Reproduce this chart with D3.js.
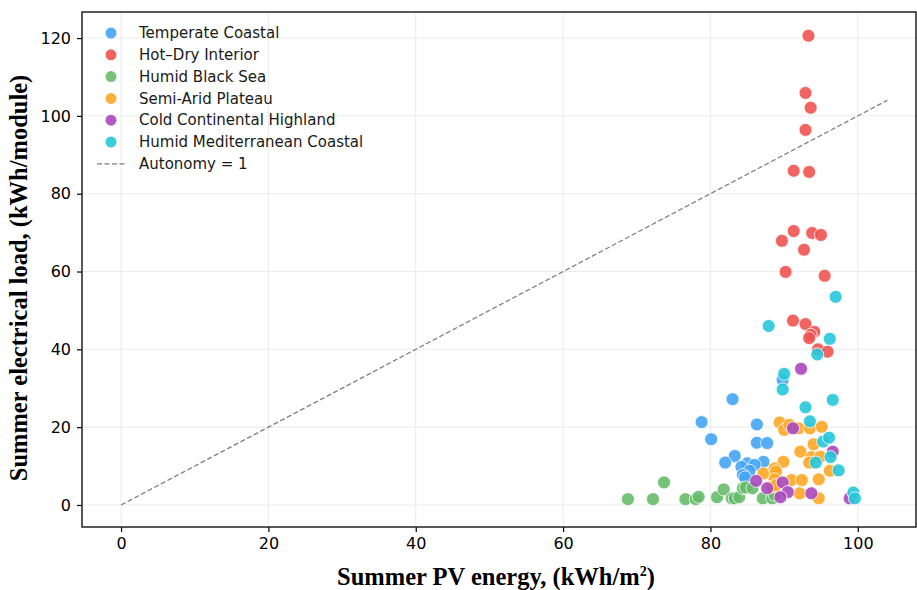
<!DOCTYPE html>
<html>
<head>
<meta charset="utf-8">
<script src="https://cdn.jsdelivr.net/npm/d3@7"></script>
<style>
    body { margin: 0; background: #fff; }
    .tick text { font-family: "DejaVu Sans", sans-serif; font-size: 16px; fill: #000; }
    .legend-label { font-family: "DejaVu Sans", sans-serif; font-size: 15px; fill: #1a1a1a; }
    .axis-title { font-family: "Liberation Serif", "Times New Roman", serif; font-size: 24.5px; font-weight: bold; fill: #000; }
</style>
</head>
<body>
<div id="chart"></div>
<script>
const WIDTH = 917, HEIGHT = 590;
const MARGIN_LEFT = 82, MARGIN_RIGHT = 1;
const MARGIN_TOP = 12, MARGIN_BOTTOM = 63;

const X_TICKS = [0, 20, 40, 60, 80, 100];
const Y_TICKS = [0, 20, 40, 60, 80, 100, 120];
const AUTONOMY_LINE = [0, 104];

const seriesNames = [
    'Temperate Coastal', 'Hot\u2013Dry Interior', 'Humid Black Sea',
    'Semi-Arid Plateau', 'Cold Continental Highland', 'Humid Mediterranean Coastal'
];
const seriesColors = ['#42a5f5', '#ef5350', '#66bb6a', '#ffa726', '#ab47bc', '#26c6da'];

// summer PV energy (kWh/m2) / summer load (kWh/module), one pair of arrays per climate zone
const temperateX = [78.8, 80.1, 83.0, 86.3, 86.3, 87.7, 83.3, 82.0, 87.2, 85.0, 84.2, 86.0, 85.3, 84.4, 84.7, 89.8];
const temperateY = [21.3, 16.9, 27.2, 20.7, 16.0, 15.9, 12.6, 10.9, 11.1, 10.7, 9.8, 10.3, 8.8, 7.7, 7.1, 32.1];

const hotDryX = [93.3, 92.9, 93.6, 92.9, 91.3, 93.4, 91.3, 93.8, 95.0, 89.7, 92.7, 90.2, 95.5, 91.2, 92.9, 94.1, 93.6, 93.4, 94.6, 95.9];
const hotDryY = [120.6, 105.9, 102.1, 96.4, 85.9, 85.6, 70.4, 69.9, 69.4, 67.9, 65.6, 59.9, 58.9, 47.4, 46.5, 44.5, 43.7, 42.9, 40.0, 39.4];

const blackSeaX = [68.8, 72.2, 73.7, 76.6, 78.0, 78.4, 80.9, 81.8, 82.9, 83.3, 83.9, 84.4, 84.8, 85.7, 87.1, 88.4, 88.7];
const blackSeaY = [1.5, 1.5, 5.8, 1.5, 1.5, 2.1, 2.0, 4.0, 1.7, 1.7, 2.0, 4.3, 4.5, 4.3, 1.7, 1.7, 2.6];

const semiAridX = [89.4, 90.0, 90.7, 92.0, 93.5, 95.1, 94.0, 92.2, 93.7, 94.9, 93.4, 89.9, 96.2, 87.2, 88.7, 88.9, 88.7, 91.0, 92.4, 94.7, 88.4, 92.1, 94.7, 88.9];
const semiAridY = [21.2, 19.3, 20.6, 19.7, 19.7, 20.1, 15.6, 13.7, 12.3, 12.4, 10.9, 11.1, 8.8, 8.1, 9.4, 8.6, 6.6, 6.4, 6.4, 6.6, 4.7, 3.0, 1.7, 5.1];

const coldX = [92.3, 91.2, 96.6, 89.8, 87.7, 90.5, 89.5, 93.7, 98.9, 86.2];
const coldY = [35.0, 19.7, 13.7, 5.8, 4.3, 3.3, 2.0, 3.0, 1.7, 6.2];

const medX = [97.0, 87.9, 96.2, 94.5, 90.0, 89.8, 96.6, 92.9, 93.5, 95.3, 96.1, 96.3, 94.3, 97.4, 99.4, 99.6];
const medY = [53.5, 46.0, 42.7, 38.7, 33.7, 29.7, 27.0, 25.1, 21.5, 16.3, 17.3, 12.3, 10.9, 8.9, 3.2, 1.7];

const seriesX = [temperateX, hotDryX, blackSeaX, semiAridX, coldX, medX];
const seriesY = [temperateY, hotDryY, blackSeaY, semiAridY, coldY, medY];

const svg = d3.select('#chart')
    .append('svg')
        .attr('width', WIDTH)
        .attr('height', HEIGHT);

const x = d3.scaleLinear()
    .domain([-5.3, 107.9])
    .range([MARGIN_LEFT, WIDTH - MARGIN_RIGHT]);

const y = d3.scaleLinear()
    .domain([-5.66, 126.7])
    .range([HEIGHT - MARGIN_BOTTOM, MARGIN_TOP]);

// grid
svg.append('g')
    .selectAll('line')
    .data(X_TICKS)
    .enter().append('line')
        .attr('x1', d => x(d)).attr('x2', d => x(d))
        .attr('y1', MARGIN_TOP).attr('y2', HEIGHT - MARGIN_BOTTOM)
        .attr('stroke', '#e6e6e6').attr('stroke-width', 0.8);

svg.append('g')
    .selectAll('line')
    .data(Y_TICKS)
    .enter().append('line')
        .attr('x1', MARGIN_LEFT).attr('x2', WIDTH - MARGIN_RIGHT)
        .attr('y1', d => y(d)).attr('y2', d => y(d))
        .attr('stroke', '#e6e6e6').attr('stroke-width', 0.8);

// points
seriesNames.forEach((name, i) => {
    const pts = seriesX[i].map((v, j) => ({x: v, y: seriesY[i][j]}));
    svg.append('g')
        .selectAll('circle')
        .data(pts)
        .enter().append('circle')
            .attr('cx', d => x(d.x))
            .attr('cy', d => y(d.y))
            .attr('r', 6.5)
            .attr('fill', seriesColors[i])
            .attr('fill-opacity', 0.9)
            .attr('stroke', '#fff')
            .attr('stroke-width', 0.8);
});

// autonomy = 1 line
svg.append('line')
    .attr('x1', x(AUTONOMY_LINE[0])).attr('y1', y(AUTONOMY_LINE[0]))
    .attr('x2', x(AUTONOMY_LINE[1])).attr('y2', y(AUTONOMY_LINE[1]))
    .attr('stroke', '#808080')
    .attr('stroke-width', 1.3)
    .attr('stroke-dasharray', '5,2.5');

// axes
const xAxis = d3.axisBottom(x).tickValues(X_TICKS).tickSize(5).tickPadding(6).tickSizeOuter(0);
const yAxis = d3.axisLeft(y).tickValues(Y_TICKS).tickSize(5).tickPadding(6).tickSizeOuter(0);

svg.append('g')
    .attr('transform', `translate(0, ${HEIGHT - MARGIN_BOTTOM})`)
    .call(xAxis)
    .call(g => g.select('.domain').remove());

svg.append('g')
    .attr('transform', `translate(${MARGIN_LEFT}, 0)`)
    .call(yAxis)
    .call(g => g.select('.domain').remove());

svg.selectAll('.tick line').attr('stroke', '#000').attr('stroke-width', 1.2);

svg.append('rect')
    .attr('x', MARGIN_LEFT).attr('y', MARGIN_TOP)
    .attr('width', WIDTH - MARGIN_RIGHT - MARGIN_LEFT)
    .attr('height', HEIGHT - MARGIN_BOTTOM - MARGIN_TOP)
    .attr('fill', 'none')
    .attr('stroke', '#222')
    .attr('stroke-width', 1.5);

// titles
const xTitle = svg.append('text')
    .attr('class', 'axis-title')
    .attr('x', 496)
    .attr('y', 585)
    .attr('text-anchor', 'middle');
xTitle.append('tspan').text('Summer PV energy, (kWh/m');
xTitle.append('tspan').attr('font-size', 14).attr('dy', -9).text('2');
xTitle.append('tspan').attr('dy', 9).text(')');

svg.append('text')
    .attr('class', 'axis-title')
    .attr('transform', 'translate(27, 278) rotate(-90)')
    .attr('text-anchor', 'middle')
    .text('Summer electrical load, (kWh/module)');

// legend
const legend = svg.append('g').attr('transform', 'translate(97, 33)');
const ROW = 21.8;
seriesNames.forEach((name, i) => {
    legend.append('circle')
        .attr('cx', 14).attr('cy', i * ROW)
        .attr('r', 5.5)
        .attr('fill', seriesColors[i])
        .attr('fill-opacity', 0.9);
    legend.append('text')
        .attr('class', 'legend-label')
        .attr('x', 42).attr('y', i * ROW)
        .attr('dy', '0.35em')
        .text(name);
});
legend.append('line')
    .attr('x1', 0).attr('x2', 29)
    .attr('y1', 6 * ROW).attr('y2', 6 * ROW)
    .attr('stroke', '#808080')
    .attr('stroke-width', 1.3)
    .attr('stroke-dasharray', '5,2.5');
legend.append('text')
    .attr('class', 'legend-label')
    .attr('x', 42).attr('y', 6 * ROW)
    .attr('dy', '0.35em')
    .text('Autonomy = 1');
</script>
</body>
</html>
